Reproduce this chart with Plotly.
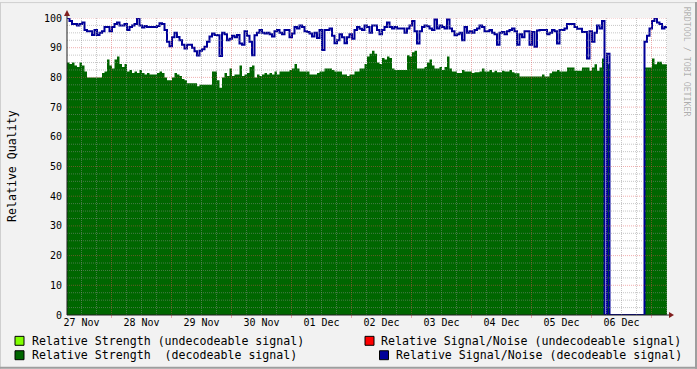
import plotly.graph_objects as go

# ---------------- data (hourly samples, 240 h) ----------------
date_labels = ["27 Nov", "28 Nov", "29 Nov", "30 Nov", "01 Dec",
               "02 Dec", "03 Dec", "04 Dec", "05 Dec", "06 Dec"]

strength_decodeable = [
    85, 84.5, 85, 84, 83.5, 85, 84, 82, 80, 80,
    80, 80, 80, 80, 81.5, 82, 86, 84, 83, 86,
    87, 84.5, 83.5, 84.5, 82, 82.5, 81.5, 82, 81.5, 82.5,
    81.5, 81, 81.5, 81, 81, 81, 81.5, 82, 81.5, 80,
    79, 79, 80, 81.5, 81, 80.5, 79.5, 79, 78, 78,
    78, 78, 77, 77.5, 77.5, 77.5, 77.5, 77.5, 82, 82,
    79, 76.5, 80, 81.5, 80.5, 83, 80.5, 81, 81, 84,
    80.5, 81, 81.5, 83.5, 84, 80, 81, 80.5, 81, 81.5,
    81, 81.5, 81, 82, 81, 82, 82, 82, 82, 82.5,
    83, 84.5, 83, 82, 82, 82, 82, 81, 81, 81,
    81.5, 82, 82, 83, 83, 83, 82.5, 82, 82, 82,
    81, 81, 80.5, 81, 81, 82, 82, 83, 83, 84.5,
    87, 88, 89, 88, 85, 84.5, 86.5, 86, 87, 86.5,
    83, 82.5, 82.5, 82.5, 82.5, 82.5, 87.5, 87, 88.5, 89,
    83, 83, 83, 83.5, 85, 86, 84, 83, 83, 83.5,
    82.5, 83.5, 87, 83, 82, 82, 81.5, 81.5, 82.5, 82,
    82, 82, 81.5, 81.7, 81.7, 82, 83, 82, 82, 82.5,
    81.7, 82.2, 81.7, 81.7, 82.2, 82, 82, 82.5, 81.7, 81.4,
    81.4, 80.3, 80.3, 80.3, 80.3, 80.3, 80.3, 80.3, 80.3, 80.3,
    81, 80.3, 80.3, 81.4, 82, 82, 82.5, 82, 82, 82,
    83.3, 83.3, 83.3, 82.2, 82.2, 82.2, 83.3, 83.3, 83.3, 82.2,
    83.3, 84.4, 82.2, 83.3, 86.4, 0, 84.4, 0, 0, 0,
    0, 0, 0, 0, 0, 0, 0, 0, 0, 0,
    0, 83.3, 83.3, 83.3, 86.4, 84.4, 85.3, 85.3, 84.4, 84.4,
]

snr_decodeable = [
    100, 99, 98, 98, 97.5, 98, 98.5, 96, 95.5, 95.5,
    94.3, 96, 94.3, 95, 95.5, 97, 97, 95.5, 97, 98,
    98.5, 97.5, 97.5, 98, 96, 97, 97.5, 98, 100, 97.5,
    96.8, 97.3, 97, 97, 97, 97, 97.3, 98.2, 98, 96,
    92, 90.5, 93.5, 95, 93.6, 92.5, 91, 89.7, 91, 91,
    90, 88.8, 87.4, 89, 89.5, 90.3, 92, 93.8, 94.8, 94.3,
    94.2, 87.2, 95, 94.5, 92.5, 93, 94, 93.5, 94.3, 91.4,
    91, 95.5, 94, 92, 87.5, 94.2, 95, 96, 95, 94.8,
    95, 94.5, 93.8, 95.5, 96, 95, 94.5, 96, 96, 93.5,
    94.8, 97, 96.5, 97.5, 97, 95.5, 95.3, 94.8, 93.8, 95,
    93.3, 96, 89.2, 96, 96, 96.5, 94, 91.5, 92.5, 94.5,
    93.5, 91.5, 93.5, 94.5, 93, 96, 97, 96.4, 96, 97.5,
    97, 95, 97.5, 97.5, 96, 94.5, 96, 97, 98.5, 97,
    96.5, 97, 96.5, 96.5, 96.5, 95, 96.5, 97.5, 99, 95.5,
    91.4, 95.5, 97, 97.5, 97.2, 96.5, 96, 99.5, 96.5, 97.5,
    97, 96.5, 99.5, 96.5, 95.5, 94.2, 94.5, 95, 92.5, 97,
    95, 95.5, 95, 96, 96.5, 97.5, 97, 95.5, 95.5, 96,
    95, 94.5, 91, 95, 95.3, 94.5, 95.5, 96, 96.5, 95.5,
    91, 94.5, 93.5, 95.5, 95.5, 91, 95.3, 90.3, 95.8, 96,
    96, 96, 94.5, 95, 96, 95.5, 91.4, 96, 96, 96.5,
    98, 98, 98, 97, 96.4, 96.4, 95.3, 95.3, 86.4, 95.5,
    92, 95, 97.5, 96.5, 99, 0, 88, 0, 0, 0,
    0, 0, 0, 0, 0, 0, 0, 0, 0, 0,
    0, 92, 94, 96.5, 99, 100, 98.5, 98, 96.5, 97,
]

legend_labels = [
    "Relative Strength (undecodeable signal)",
    "Relative Strength  (decodeable signal)",
    "Relative Signal/Noise (undecodeable signal)",
    "Relative Signal/Noise (decodeable signal)",
]
legend_colors = ["#80FF00", "#006600", "#FF0000", "#000099"]

y_title = "Relative Quality"
watermark = "RRDTOOL / TOBI OETIKER"

# ---------------- figure ----------------
W, H = 697, 369
L, R, T, B = 67, 30, 16, 54
PW, PH = W - L - R, H - T - B
T0 = 0.2                      # hour offset of first sample vs 6h grid
n = len(strength_decodeable)
xs = [T0 + i for i in range(n + 1)]


def px(x):
    return (x - L) / PW


def py(y):
    return (H - B - y) / PH


fig = go.Figure()
fig.add_trace(go.Scatter(
    x=xs, y=strength_decodeable + [strength_decodeable[-1]],
    mode="lines", line=dict(width=0, color="#006600", shape="hv"),
    fill="tozeroy", fillcolor="#006600", hoverinfo="skip"))
fig.add_trace(go.Scatter(
    x=xs, y=snr_decodeable + [snr_decodeable[-1]],
    mode="lines", line=dict(width=2, color="#000099", shape="hv"),
    hoverinfo="skip"))

shapes = []
GRID = "rgba(143,143,143,0.5)"
MGRID = "rgba(222,79,79,0.45)"
DASH = "1px,1px"
# horizontal grid
for k in range(1, 41):
    v = k * 2.5
    major = (k % 4 == 0)
    shapes.append(dict(type="line", xref="x", yref="y", x0=T0, x1=T0 + 240,
                       y0=v, y1=v, layer="above",
                       line=dict(color=MGRID if major else GRID, width=1, dash=DASH)))
# vertical grid
for k in range(1, 41):
    t = 6 * k
    if t > T0 + 240:
        break
    major = ((t - 18) % 24 == 0)
    shapes.append(dict(type="line", xref="x", yref="y", x0=t, x1=t, y0=0, y1=100,
                       layer="above",
                       line=dict(color=MGRID if major else GRID, width=1, dash=DASH)))
    if major:
        shapes.append(dict(type="line", xref="x", yref="paper", x0=t, x1=t,
                           y0=0, y1=-3 / PH, layer="above",
                           line=dict(color=MGRID, width=1)))
# axes lines
AX = "#1F1F1F"
shapes.append(dict(type="line", xref="paper", yref="paper", x0=0, x1=px(671),
                   y0=0, y1=0, layer="above", line=dict(color=AX, width=1)))
shapes.append(dict(type="line", xref="paper", yref="paper", x0=0, x1=0,
                   y0=0, y1=py(11), layer="above", line=dict(color=AX, width=1)))
# arrows
ARROW = "#801F1F"
shapes.append(dict(type="path", xref="paper", yref="paper", layer="above",
                   path=f"M {px(669)},{py(312)} L {px(674)},{py(315)} L {px(669)},{py(318)} Z",
                   fillcolor=ARROW, line=dict(color=ARROW, width=0)))
shapes.append(dict(type="path", xref="paper", yref="paper", layer="above",
                   path=f"M {px(64)},{py(14)} L {px(67)},{py(8)} L {px(70)},{py(14)} Z",
                   fillcolor=ARROW, line=dict(color=ARROW, width=0)))
# frame shading
shapes.append(dict(type="line", xref="paper", yref="paper", x0=px(0), x1=px(W),
                   y0=py(0.5), y1=py(0.5), line=dict(color="#CFCFCF", width=1)))
shapes.append(dict(type="line", xref="paper", yref="paper", x0=px(0.5), x1=px(0.5),
                   y0=py(0), y1=py(H), line=dict(color="#CFCFCF", width=1)))
shapes.append(dict(type="line", xref="paper", yref="paper", x0=px(0), x1=px(W),
                   y0=py(H - 1), y1=py(H - 1), line=dict(color="#9E9E9E", width=2)))
shapes.append(dict(type="line", xref="paper", yref="paper", x0=px(W - 1), x1=px(W - 1),
                   y0=py(0), y1=py(H), line=dict(color="#9E9E9E", width=2)))

annotations = []
LEG_FONT = dict(family="DejaVu Sans Mono", size=11.6, color="black")
leg_pos = [(15, 341, 30), (15, 355.5, 30), (365, 341, 379), (379.5, 355.5, 393.5)]
for (sx, cy, tx), lab, col in zip(leg_pos, legend_labels, legend_colors):
    shapes.append(dict(type="rect", xref="paper", yref="paper",
                       x0=px(sx), x1=px(sx + 9), y0=py(cy - 4.5), y1=py(cy + 4.5),
                       fillcolor=col, line=dict(color="black", width=1)))
    annotations.append(dict(x=px(tx), y=py(cy), xref="paper", yref="paper",
                            text=lab, showarrow=False, xanchor="left", yanchor="middle",
                            font=LEG_FONT))

annotations.append(dict(x=px(12), y=py(165), xref="paper", yref="paper",
                        text=y_title, showarrow=False, textangle=-90,
                        xanchor="center", yanchor="middle", font=LEG_FONT))
annotations.append(dict(x=px(687), y=py(60), xref="paper", yref="paper",
                        text=watermark, showarrow=False, textangle=90,
                        xanchor="center", yanchor="middle",
                        font=dict(family="DejaVu Sans Mono", size=8.3,
                                  color="rgba(0,0,0,0.3)")))

fig.update_layout(
    width=W, height=H,
    margin=dict(l=L, r=R, t=T, b=B, pad=0),
    paper_bgcolor="#F2F2F2", plot_bgcolor="white",
    showlegend=False,
    shapes=shapes, annotations=annotations,
    xaxis=dict(range=[T0, T0 + 240], showgrid=False, zeroline=False, showline=False,
               tickmode="array", tickvals=[6 + 24 * k for k in range(len(date_labels))],
               ticktext=date_labels, ticks="",
               tickfont=dict(family="DejaVu Sans Mono", size=10, color="black")),
    yaxis=dict(range=[0, 100], showgrid=False, zeroline=False, showline=False,
               tickmode="array", tickvals=list(range(0, 101, 10)), ticks="",
               ticklabelstandoff=4,
               tickfont=dict(family="DejaVu Sans Mono", size=10, color="black")),
)

fig.write_html("out.html", config={"displayModeBar": False},
               post_script="document.body.style.margin='0';"
                           "document.body.style.overflow='hidden';")
